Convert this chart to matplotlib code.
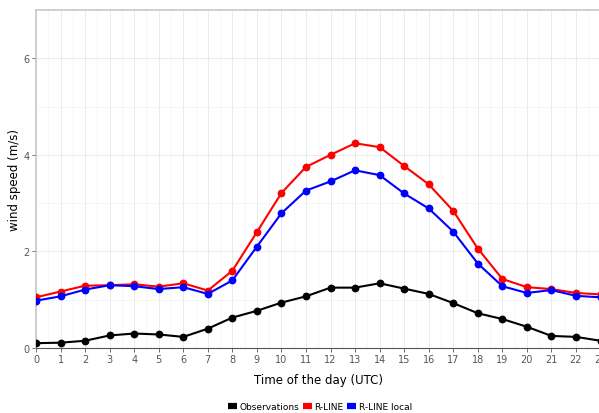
import numpy as np
import matplotlib
matplotlib.use("Agg")
import matplotlib.pyplot as plt
from matplotlib.lines import Line2D

hours = list(range(24))
observations = [0.10, 0.11, 0.15, 0.26, 0.30, 0.28, 0.23, 0.40, 0.63, 0.77, 0.94, 1.07,
                1.25, 1.25, 1.34, 1.23, 1.12, 0.93, 0.72, 0.60, 0.44, 0.25, 0.23, 0.15]
rline = [1.05, 1.17, 1.29, 1.30, 1.32, 1.27, 1.34, 1.19, 1.60, 2.40, 3.21, 3.75,
         4.00, 4.24, 4.16, 3.77, 3.39, 2.84, 2.06, 1.43, 1.26, 1.22, 1.14, 1.11]
rline_local = [0.98, 1.07, 1.21, 1.30, 1.28, 1.22, 1.26, 1.12, 1.40, 2.10, 2.79, 3.26,
               3.45, 3.68, 3.58, 3.20, 2.89, 2.41, 1.75, 1.28, 1.14, 1.20, 1.08, 1.05]

series = [
    ("Observations", observations, "black"),
    ("R-LINE", rline, "#FF0000"),
    ("R-LINE local", rline_local, "#0000FF"),
]

W, H = 599, 414
fig = plt.figure(figsize=(W / 100, H / 100), dpi=100)
# panel runs a bit past the right edge, like the cropped original
left, right, top, bottom = 36, 600.5, 11, 349
ax = fig.add_axes([left / W, 1 - bottom / H, (right - left) / W, (bottom - top) / H])

for name, vals, col in series:
    ax.plot(hours, vals, color=col, lw=1.5, marker="o", ms=4.6, zorder=3)

ax.set_xlim(0, 23)
ax.set_ylim(0, 7)
ax.set_xticks(hours)
ax.set_yticks([0, 2, 4, 6])
ax.set_xticks(np.arange(0.5, 23, 1), minor=True)
ax.set_yticks([1, 3, 5], minor=True)
ax.grid(which="major", color="#EBEBEB", lw=0.7)
ax.grid(which="minor", color="#F3F3F3", lw=0.5)
ax.set_axisbelow(True)

for s in ax.spines.values():
    s.set_color("#C8C8C8")
    s.set_linewidth(1.2)
ax.spines["bottom"].set_color("#555555")
ax.spines["bottom"].set_linewidth(0.8)

ax.tick_params(which="major", length=3, width=0.6, color="#555555",
               labelsize=7, labelcolor="#555555", pad=1.5)
ax.tick_params(which="minor", length=0)

ax.set_ylabel("wind speed (m/s)", fontsize=8.5, labelpad=2)
fig.text(318 / W, 1 - 381 / H, "Time of the day (UTC)", fontsize=8.5,
         ha="center", va="center")

handles = [Line2D([0], [0], color=c, lw=4.5, solid_capstyle="butt") for _, _, c in series]
fig.legend(handles, [n for n, _, _ in series], loc="center",
           bbox_to_anchor=(320 / W, 1 - 408 / H), ncol=3, frameon=False,
           fontsize=6.5, handlelength=1.0, handletextpad=0.3, columnspacing=0.4)

fig.savefig("out.png", dpi=100)
